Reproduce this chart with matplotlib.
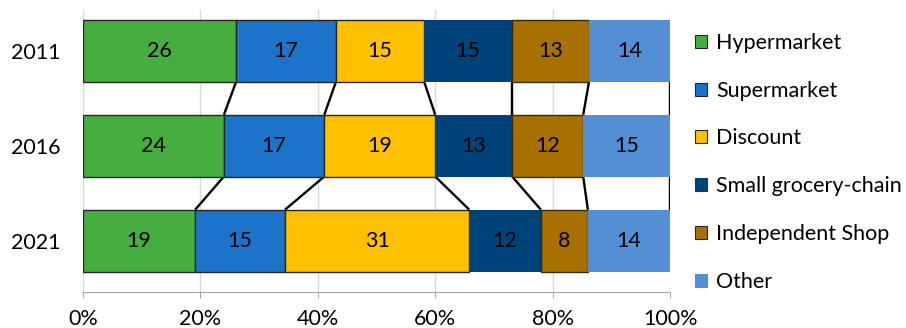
import matplotlib.pyplot as plt
from matplotlib.patches import Patch
import numpy as np

plt.rcParams['font.family'] = ['Lato', 'DejaVu Sans']

# Data (shares in %)
years = ['2011', '2016', '2021']
series = ['Hypermarket', 'Supermarket', 'Discount', 'Small grocery-chain',
          'Independent Shop', 'Other']
hypermarket = [26.1, 24.0, 19.1]
supermarket = [17.0, 17.1, 15.3]
discount = [15.0, 18.9, 31.4]
small_chain = [15.0, 13.1, 12.2]
independent = [13.1, 12.1, 8.0]
other = [13.8, 14.8, 14.0]
values = [hypermarket, supermarket, discount, small_chain, independent, other]

colors = ['#46AE3E', '#1C74CA', '#FFC000', '#00427A', '#A87000', '#548FD6']
edges = ['#262626', '#262626', '#262626', 'none', '#3a2a00', 'none']

fs = 15.5
fig = plt.figure(figsize=(9.06, 3.28), dpi=100)
ax = fig.add_axes([0.0916, 0.110, 0.648, 0.86])

h = 0.65
y = np.arange(len(years))
left = np.zeros(len(years))
for name, vals, c, ec in zip(series, values, colors, edges):
    vals = np.array(vals)
    ax.barh(y, vals, left=left, height=h, color=c, edgecolor=ec,
            linewidth=1.0, zorder=3, label=name)
    for yi, l, v in zip(y, left, vals):
        ax.text(l + v / 2, yi, f'{v:.0f}', ha='center', va='center',
                fontsize=fs, color='black', zorder=4)
    left = left + vals

# connector lines between bar boundaries
cum = np.cumsum(np.array(values), axis=0)
for k in range(cum.shape[0]):
    for i in range(len(years) - 1):
        ax.plot([cum[k, i], cum[k, i + 1]], [i + h / 2, i + 1 - h / 2],
                color='black', linewidth=1.7, zorder=2,
                solid_capstyle='butt')

ax.set_xlim(0, 100)
ax.set_ylim(2.54, -0.43)
ax.set_yticks(y)
ax.set_yticklabels(years, fontsize=fs)
ax.set_xticks(np.arange(0, 101, 20))
ax.set_xticklabels([f'{t}%' for t in range(0, 101, 20)], fontsize=fs)
ax.tick_params(axis='y', length=0, pad=16)
ax.tick_params(axis='x', direction='out', length=4.5, color='#A6A6A6', pad=8)
ax.grid(axis='x', color='#D9D9D9', linewidth=1, zorder=0)
ax.set_axisbelow(True)
for s in ['top', 'right', 'left']:
    ax.spines[s].set_visible(False)
ax.spines['bottom'].set_color('#A6A6A6')

handles = [Patch(facecolor=c, edgecolor=('#262626' if e != 'none' else c),
                 linewidth=0.8) for c, e in zip(colors, edges)]
fig.legend(handles, series, loc='upper left', bbox_to_anchor=(0.758, 0.926),
           frameon=False, fontsize=fs, handlelength=0.55, handleheight=0.55,
           handletextpad=0.4, labelspacing=1.29, borderaxespad=0)

fig.savefig('out.png', dpi=100)
